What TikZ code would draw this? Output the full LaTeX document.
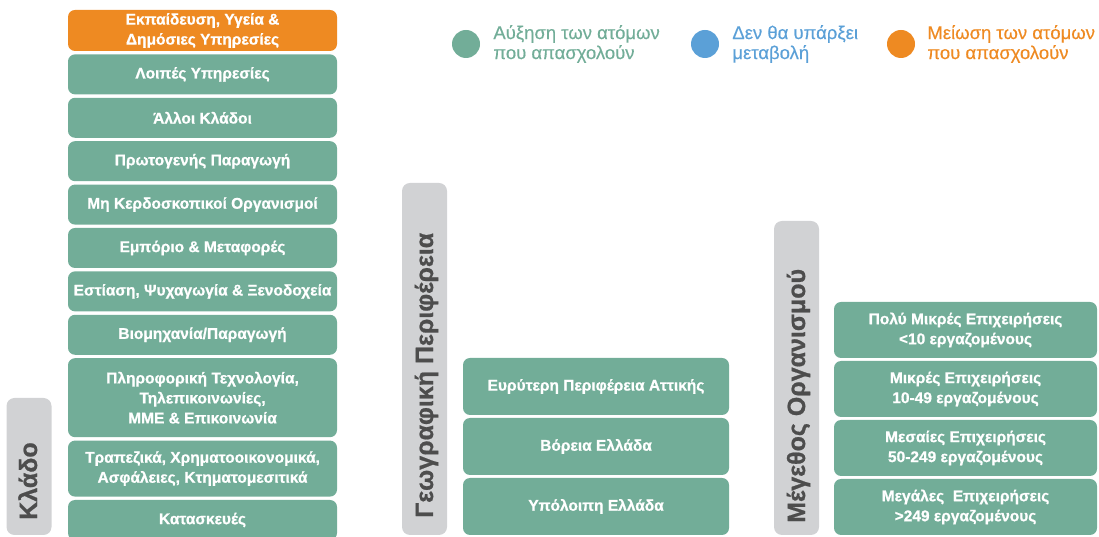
\documentclass[tikz,border=0pt]{standalone}
\usepackage{fontspec}
\setmainfont{Liberation Sans}
\newfontfamily\heavyfont{Liberation Sans}[BoldFeatures={FakeBold=0.8}]
\newfontfamily\mediumfont{Liberation Sans}[FakeBold=0.4]
\usetikzlibrary{positioning}
\definecolor{rise}{HTML}{72AD98}
\definecolor{fall}{HTML}{EE8A22}
\definecolor{same}{HTML}{5BA0D7}
\definecolor{barfill}{HTML}{D1D2D4}
\definecolor{bartext}{HTML}{4D4D4D}
\begin{document}
\begin{tikzpicture}[x=1pt,y=1pt,
    node distance=3.4pt,
    cat/.style={fill=rise, rounded corners=7pt, text=white, align=center,
      font=\heavyfont\bfseries\fontsize{15.5}{20}\selectfont, inner sep=0pt, outer sep=0pt,
      minimum width=269pt, minimum height=40pt},
    bar/.style={fill=barfill, rounded corners=8pt, inner sep=0pt, minimum width=45pt},
    bartxt/.style={text=bartext, font=\heavyfont\bfseries\fontsize{25}{30}\selectfont,
      inner sep=0pt, rotate=90, anchor=base west},
    dot/.style={circle, inner sep=0pt, minimum size=28pt},
    legtxt/.style={align=left, inner sep=0pt, font=\mediumfont\fontsize{18.5}{20}\selectfont}]
  \useasboundingbox (0,0) rectangle (1099,537);

  % legend
  \node[dot, fill=rise] (upDot) at (466,493) {};
  \node[legtxt, text=rise, right=13pt of upDot] (upTxt) {Αύξηση των ατόμων\\που απασχολούν};
  \node[dot, fill=same] (eqDot) at (705,493) {};
  \node[legtxt, text=same, right=13pt of eqDot] (eqTxt) {Δεν θα υπάρξει\\μεταβολή};
  \node[dot, fill=fall] (dnDot) at (901,493) {};
  \node[legtxt, text=fall, right=12pt of dnDot] (dnTxt) {Μείωση των ατόμων\\που απασχολούν};

  % sector
  \node[bar, minimum height=137pt] (klBar) at (29,70.5) {};
  \node[bartxt] (klTxt) at (37,17) {Κλάδο};
  \node[cat, fill=fall, minimum height=41pt] (k1) at (202.5,506.5) {Εκπαίδευση, Υγεία \&\\Δημόσιες Υπηρεσίες};
  \node[cat, below=of k1] (k2) {Λοιπές Υπηρεσίες};
  \node[cat, below=of k2] (k3) {Άλλοι Κλάδοι};
  \node[cat, below=of k3] (k4) {Πρωτογενής Παραγωγή};
  \node[cat, below=of k4] (k5) {Μη Κερδοσκοπικοί Οργανισμοί};
  \node[cat, below=of k5] (k6) {Εμπόριο \& Μεταφορές};
  \node[cat, below=of k6] (k7) {Εστίαση, Ψυχαγωγία \& Ξενοδοχεία};
  \node[cat, below=of k7] (k8) {Βιομηχανία/Παραγωγή};
  \node[cat, below=of k8, minimum height=79pt] (k9) {Πληροφορική Τεχνολογία,\\Τηλεπικοινωνίες,\\ΜΜΕ \& Επικοινωνία};
  \node[cat, below=of k9, minimum height=56pt] (k10) {Τραπεζικά, Χρηματοοικονομικά,\\Ασφάλειες, Κτηματομεσιτικά};
  \node[cat, below=of k10] (k11) {Κατασκευές};

  % region
  \node[bar, minimum height=352pt] (geBar) at (424.5,178) {};
  \node[bartxt] (geTxt) at (433,19) {Γεωγραφική Περιφέρεια};
  \node[cat, minimum width=266pt, minimum height=57pt] (g3) at (596,30.5) {Υπόλοιπη Ελλάδα};
  \node[cat, minimum width=266pt, minimum height=57pt, above=3pt of g3] (g2) {Βόρεια Ελλάδα};
  \node[cat, minimum width=266pt, minimum height=57pt, above=3pt of g2] (g1) {Ευρύτερη Περιφέρεια Αττικής};

  % size
  \node[bar, minimum height=314pt] (mgBar) at (796.5,159) {};
  \node[bartxt] (mgTxt) at (805,14) {Μέγεθος Οργανισμού};
  \node[cat, minimum width=263pt, minimum height=56pt] (m4) at (965.5,30) {Μεγάλες~ Επιχειρήσεις\\>249 εργαζομένους};
  \node[cat, minimum width=263pt, minimum height=56pt, above=3pt of m4] (m3) {Μεσαίες Επιχειρήσεις\\50-249 εργαζομένους};
  \node[cat, minimum width=263pt, minimum height=56pt, above=3pt of m3] (m2) {Μικρές Επιχειρήσεις\\10-49 εργαζομένους};
  \node[cat, minimum width=263pt, minimum height=56pt, above=3pt of m2] (m1) {Πολύ Μικρές Επιχειρήσεις\\<10 εργαζομένους};
\end{tikzpicture}
\end{document}
